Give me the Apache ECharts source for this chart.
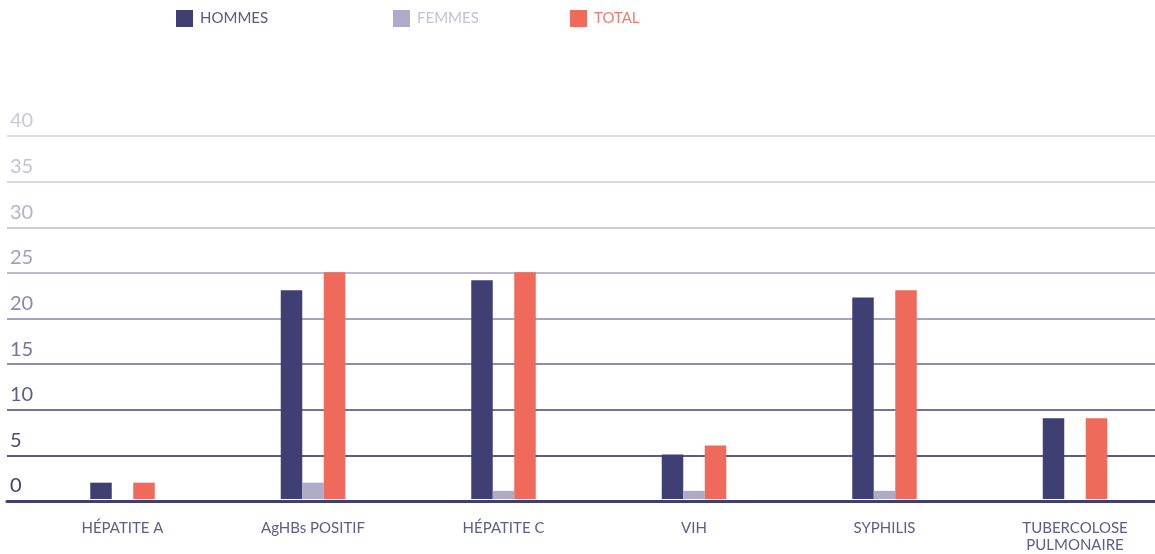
<!DOCTYPE html>
<html>
<head>
<meta charset="utf-8">
<script src="https://cdn.jsdelivr.net/npm/echarts@6/dist/echarts.min.js"></script>
<style>
html,body{margin:0;padding:0;background:#fff;}
#chart{width:1155px;height:554px;}
</style>
</head>
<body>
<div id="chart"></div>
<script>
const categories = ['HÉPATITE A', 'AgHBs POSITIF', 'HÉPATITE C', 'VIH', 'SYPHILIS', 'TUBERCOLOSE\nPULMONAIRE'];
const hommes = [1.8, 23, 24.1, 4.9, 22.2, 8.9];
const femmes = [0, 1.8, 0.9, 0.9, 0.9, 0];
const total  = [1.8, 25, 25, 5.9, 23, 8.9];
const yMin = 0, yMax = 40, yStep = 5;

// styles (tick index 0 = value 0)
const gridColors  = ['#3f3e72', '#5b5a89', '#75739d', '#8e8bb2', '#a6a3c4', '#bcb9d4', '#cfcce1', '#d7d5e6', '#dddbe9'];
const labelColors = ['#3f3e72', '#4b4a7c', '#5f5d8c', '#75739f', '#8b88b2', '#a19ec4', '#b5b2d0', '#c3c1da', '#cac8de'];
const FONT = 'Lato, "Open Sans", sans-serif';

const chart = echarts.init(document.getElementById('chart'), null, {renderer: 'canvas'});
const mkLegend = (name, left, color) => ({
  data: [name], left: left, top: 10, itemWidth: 17, itemHeight: 17, icon: 'rect',
  padding: 0, selectedMode: false,
  textStyle: {color: color, fontSize: 15, fontFamily: FONT, padding: [2, 0, 0, 2]}
});
chart.setOption({
  animation: false,
  backgroundColor: '#fff',
  legend: [
    mkLegend('HOMMES', 176, '#58578a'),
    mkLegend('FEMMES', 393, '#c3c0d8'),
    mkLegend('TOTAL', 570, '#f07b6e')
  ],
  grid: [
    {left: 122.5, right: 80, top: 136, bottom: 53},
    {left: 7, right: 0, top: 136, bottom: 53}
  ],
  xAxis: [
    {type: 'category', gridIndex: 0, data: categories, boundaryGap: false,
     axisLine: {show: false}, axisTick: {show: false}, splitLine: {show: false},
     axisLabel: {color: '#5d5c8c', fontSize: 15, fontFamily: FONT, margin: 21, lineHeight: 17, interval: 0}},
    {type: 'value', gridIndex: 1, min: 0, max: 1, z: 10,
     axisLine: {show: true, onZero: false, lineStyle: {color: '#3f3e72', width: 3}},
     axisLabel: {show: false}, axisTick: {show: false}, splitLine: {show: false}}
  ],
  yAxis: [
    {type: 'value', gridIndex: 0, min: yMin, max: yMax, interval: yStep, show: false},
    {type: 'value', gridIndex: 1, min: yMin, max: yMax, interval: yStep,
     axisLine: {show: false}, axisTick: {show: false},
     splitLine: {show: true, showMinLine: true, showMaxLine: true, lineStyle: {color: gridColors, width: 2}},
     axisLabel: {inside: true, align: 'left', verticalAlign: 'bottom', margin: 3,
       fontSize: 20, fontFamily: FONT, padding: [0, 0, 5, 0],
       color: (v, i) => labelColors[Math.round((v - yMin) / yStep)]}}
  ],
  series: [
    {name: 'HOMMES', type: 'bar', data: hommes, barWidth: 21.5, barGap: '0%', itemStyle: {color: '#3f3f73'}},
    {name: 'FEMMES', type: 'bar', data: femmes, barWidth: 21.5, barGap: '0%', itemStyle: {color: '#aeabc8'}},
    {name: 'TOTAL', type: 'bar', data: total, barWidth: 21.5, barGap: '0%', itemStyle: {color: '#ef6a5a'}}
  ]
});
</script>
</body>
</html>
